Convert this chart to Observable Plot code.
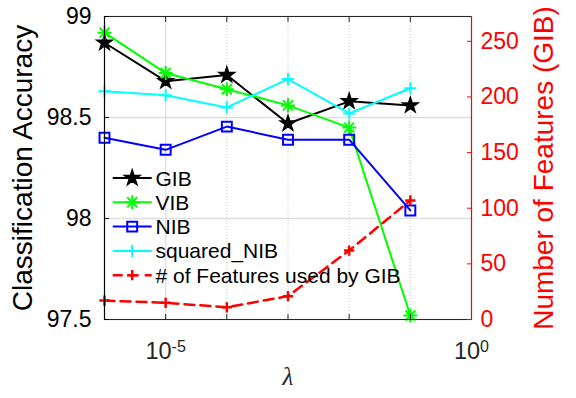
<!DOCTYPE html>
<html><head><meta charset="utf-8">
<script src="https://cdn.jsdelivr.net/npm/d3@7"></script>
<script src="https://cdn.jsdelivr.net/npm/@observablehq/plot@0.6"></script>
<style>
body{margin:0;background:#fff;}
#chart{width:576px;height:398px;overflow:hidden;}
</style></head><body><div id="chart"></div>
<script>
// ---- data ----
const lambdas = [1e-6, 1e-5, 1e-4, 1e-3, 1e-2, 1e-1];
const gib = [98.87, 98.68, 98.71, 98.47, 98.58, 98.56];
const vib = [98.92, 98.72, 98.64, 98.56, 98.45, 97.52];
const nib = [98.40, 98.34, 98.455, 98.39, 98.39, 98.04];
const sqNib = [98.63, 98.61, 98.55, 98.69, 98.52, 98.645];
const nFeatures = [17, 15, 11, 21, 62, 107];
const seriesNames = ["GIB", "VIB", "NIB", "squared_NIB", "# of Features used by GIB"];
const xTickLabels = [1e-5, 1];
const xDecades = [1e-5, 1e-4, 1e-3, 1e-2, 1e-1];
const xMinorGrid = [1e-4, 1e-3, 1e-2, 1e-1];
const yTicks = [97.5, 98, 98.5, 99];
const rightTicks = [0, 50, 100, 150, 200, 250];
const yDomain = [97.5, 99];
const rightDomain = [0, 272.3];

// map right-axis values onto left scale (dual axis)
const toLeft = v => yDomain[0] + (v - rightDomain[0]) * (yDomain[1] - yDomain[0]) / (rightDomain[1] - rightDomain[0]);
const fromLeft = y => rightDomain[0] + (y - yDomain[0]) * (rightDomain[1] - rightDomain[0]) / (yDomain[1] - yDomain[0]);

const rows = arr => lambdas.map((x, i) => ({x, y: arr[i]}));
const gibRows = rows(gib), vibRows = rows(vib), nibRows = rows(nib), sqRows = rows(sqNib);
const featRows = lambdas.map((x, i) => ({x, y: toLeft(nFeatures[i])}));

const GREEN = "#00ff00", BLUE = "#0000ff", CYAN = "#00ffff", RED = "#ff0000";
const AX = "#262626";

const plot = Plot.plot({
  width: 576, height: 398,
  marginLeft: 104, marginRight: 105, marginTop: 16, marginBottom: 79,
  style: {fontFamily: "'Liberation Sans', Arial, sans-serif", background: "white"},
  x: {type: "log", domain: [1e-6, 1]},
  y: {domain: yDomain},
  marks: [
    // grid
    Plot.ruleY(yTicks, {stroke: "#dedede", strokeWidth: 1.5}),
    Plot.ruleX([1e-5], {stroke: "#dedede", strokeWidth: 1.2}),
    Plot.ruleX(xMinorGrid, {stroke: "#c8c8c8", strokeWidth: 1, strokeDasharray: "1,2"}),
    // series
    Plot.line(gibRows, {x: "x", y: "y", stroke: "black", strokeWidth: 2}),
    Plot.dot(gibRows, {x: "x", y: "y", symbol: "star", r: 4.8, stroke: "black", fill: "black", strokeWidth: 1.5}),
    Plot.line(vibRows, {x: "x", y: "y", stroke: GREEN, strokeWidth: 2}),
    Plot.dot(vibRows, {x: "x", y: "y", symbol: "plus", r: 4.6, stroke: GREEN, strokeWidth: 2}),
    Plot.dot(vibRows, {x: "x", y: "y", symbol: "times", r: 4.6, stroke: GREEN, strokeWidth: 2}),
    Plot.line(nibRows, {x: "x", y: "y", stroke: BLUE, strokeWidth: 2}),
    Plot.dot(nibRows, {x: "x", y: "y", symbol: "square", r: 5.6, stroke: BLUE, fill: "none", strokeWidth: 2}),
    Plot.line(sqRows, {x: "x", y: "y", stroke: CYAN, strokeWidth: 2}),
    Plot.dot(sqRows, {x: "x", y: "y", symbol: "plus", r: 4, stroke: CYAN, strokeWidth: 2}),
    Plot.line(featRows, {x: "x", y: "y", stroke: RED, strokeWidth: 2.5, strokeDasharray: "10,6"}),
    Plot.dot(featRows, {x: "x", y: "y", symbol: "plus", r: 3.4, stroke: RED, strokeWidth: 2.5}),
    // box
    Plot.ruleY([yDomain[1]], {stroke: AX, strokeWidth: 1}),
    Plot.ruleY([yDomain[0]], {stroke: AX, strokeWidth: 1.2}),
    Plot.ruleX([1e-6], {stroke: "black", strokeWidth: 1.2}),
    Plot.ruleX([1], {stroke: RED, strokeWidth: 1.2}),
    // x axis
    Plot.axisX(xDecades, {anchor: "bottom", tickSize: 5, dy: -5, tickFormat: () => "", label: null, color: AX}),
    Plot.axisX(xDecades, {anchor: "top", tickSize: 5, dy: 5, tickFormat: () => "", label: null, color: AX}),
    Plot.axisX(xTickLabels, {anchor: "bottom", tickSize: 0, tickPadding: 23, fontSize: 23.5, label: null, color: AX,
      tickFormat: d => d === 1 ? "10^0" : "10^-5"}),
    // left y axis
    Plot.axisY(yTicks, {anchor: "left", tickSize: 5, dx: 5, tickFormat: () => "", label: null, color: "black"}),
    Plot.axisY(yTicks, {anchor: "left", tickSize: 0, tickPadding: 13, fontSize: 23, label: null, color: "black",
      tickFormat: d => String(d)}),
    // right y axis (features)
    Plot.axisY(rightTicks.map(toLeft), {anchor: "right", tickSize: 5, dx: -5, tickFormat: () => "", label: null, color: RED}),
    Plot.axisY(rightTicks.map(toLeft), {anchor: "right", tickSize: 0, tickPadding: 9, fontSize: 23, label: null, color: RED,
      tickFormat: d => String(Math.round(fromLeft(d)))}),
    // axis titles
    Plot.text(["Classification Accuracy"], {frameAnchor: "left", textAnchor: "middle", dx: -81, rotate: -90, fontSize: 28, fill: "black"}),
    Plot.text(["Number of Features (GIB)"], {frameAnchor: "right", textAnchor: "middle", dx: 73, rotate: -90, fontSize: 28, fill: RED}),
    Plot.text(["λ"], {frameAnchor: "bottom", dy: 65, fontSize: 25, fontStyle: "italic", fontFamily: "'Liberation Serif', serif", fill: AX})
  ]
});

// superscripts for the log tick labels
d3.select(plot).selectAll('g[aria-label="x-axis tick label"] text').each(function() {
  const t = this.textContent;
  if (!t.includes("^")) return;
  const [base, exp] = t.split("^");
  this.textContent = "";
  const s = d3.select(this);
  s.append("tspan").text(base);
  s.append("tspan").attr("dy", "-0.45em").attr("font-size", "16px").text(exp);
});

// legend (inside plot)
const legendItems = [
  {name: seriesNames[0], color: "black", symbols: [{t: d3.symbolStar, r: 4.8, fill: "black"}], dash: null, w: 2},
  {name: seriesNames[1], color: GREEN, symbols: [{t: d3.symbolPlus, r: 4.6}, {t: d3.symbolTimes, r: 4.6}], dash: null, w: 2},
  {name: seriesNames[2], color: BLUE, symbols: [{t: d3.symbolSquare, r: 5.6}], dash: null, w: 2},
  {name: seriesNames[3], color: CYAN, symbols: [{t: d3.symbolPlus, r: 4}], dash: null, w: 2},
  {name: seriesNames[4], color: RED, symbols: [{t: d3.symbolPlus, r: 3.4}], dash: "10,6", w: 2.5}
];
const lg = d3.select(plot).append("g")
  .attr("font-family", "'Liberation Sans', Arial, sans-serif")
  .attr("text-anchor", "start");
legendItems.forEach((it, i) => {
  const y = 178 + i * 24.3;
  lg.append("line").attr("x1", 112.7).attr("x2", 151.7).attr("y1", y).attr("y2", y)
    .attr("stroke", it.color).attr("stroke-width", it.w).attr("stroke-dasharray", it.dash);
  it.symbols.forEach(s => {
    lg.append("path").attr("d", d3.symbol(s.t, Math.PI * s.r * s.r)())
      .attr("transform", `translate(132.2,${y})`)
      .attr("fill", s.fill || "none").attr("stroke", it.color)
      .attr("stroke-width", s.fill ? 1.5 : it.w);
  });
  lg.append("text").attr("x", 155.5).attr("y", y).attr("dy", "0.36em")
    .attr("text-anchor", "start")
    .attr("font-size", 21).attr("fill", "black").text(it.name);
});

document.getElementById("chart").appendChild(plot);
</script>
</body></html>
